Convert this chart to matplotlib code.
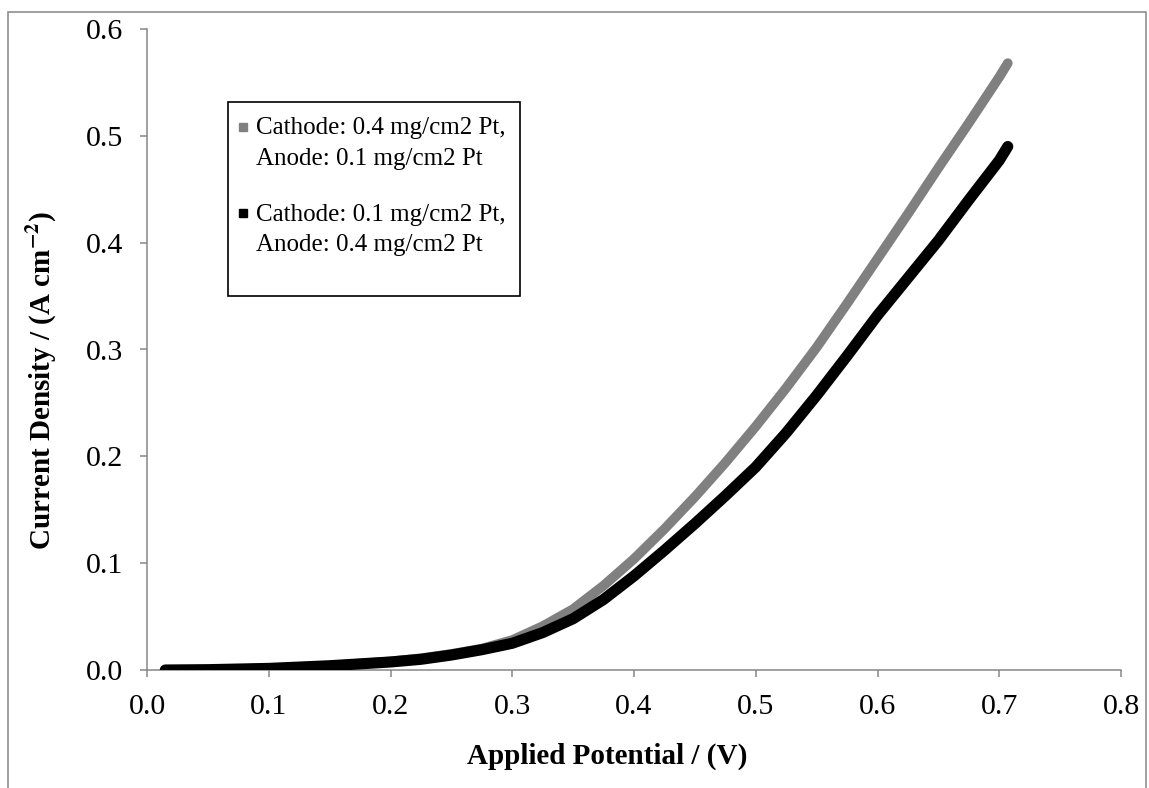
import matplotlib
matplotlib.use('Agg')
import matplotlib.pyplot as plt
from matplotlib.lines import Line2D
from matplotlib.patches import Rectangle

# applied potential (V) and current density (A cm-2)
potential = [0.015, 0.05, 0.1, 0.15, 0.2, 0.225, 0.25, 0.275, 0.3, 0.325, 0.35, 0.375,
             0.4, 0.425, 0.45, 0.475, 0.5, 0.525, 0.55, 0.575, 0.6, 0.625, 0.65,
             0.675, 0.7, 0.707]
cath04_an01 = [0.0, 0.0003, 0.0015, 0.004, 0.008, 0.011, 0.015, 0.020, 0.028, 0.041,
               0.057, 0.079, 0.104, 0.132, 0.162, 0.194, 0.228, 0.264, 0.302, 0.343,
               0.385, 0.427, 0.470, 0.512, 0.555, 0.568]
cath01_an04 = [0.0, 0.0003, 0.0015, 0.004, 0.0075, 0.010, 0.014, 0.019, 0.025, 0.035,
               0.048, 0.066, 0.088, 0.112, 0.137, 0.163, 0.190, 0.222, 0.257, 0.294,
               0.332, 0.367, 0.402, 0.440, 0.477, 0.490]

label_1 = ['Cathode: 0.4 mg/cm2 Pt,', 'Anode: 0.1 mg/cm2 Pt']
label_2 = ['Cathode: 0.1 mg/cm2 Pt,', 'Anode: 0.4 mg/cm2 Pt']
xticks = [0.0, 0.1, 0.2, 0.3, 0.4, 0.5, 0.6, 0.7, 0.8]
yticks = [0.0, 0.1, 0.2, 0.3, 0.4, 0.5, 0.6]

plt.rcParams['font.family'] = ['Liberation Serif', 'DejaVu Serif']
plt.rcParams['mathtext.fontset'] = 'stix'

W, H = 1149, 788
fig = plt.figure(figsize=(W / 100, H / 100), dpi=100)
ax = fig.add_axes([147 / W, 1 - 670 / H, 974 / W, 641 / H])

axis_grey = '#868686'
ax.plot(potential, cath04_an01, color='#808080', lw=7, solid_capstyle='round', zorder=2)
ax.plot(potential, cath01_an04, color='black', lw=8, solid_capstyle='round', zorder=3)

ax.set_xlim(0, 0.8)
ax.set_ylim(0, 0.6)
ax.set_xticks(xticks)
ax.set_yticks(yticks)
ax.set_xticklabels([f'{v:.1f}' for v in xticks])
ax.set_yticklabels([f'{v:.1f}' for v in yticks])
for s in ['top', 'right']:
    ax.spines[s].set_visible(False)
for s in ['left', 'bottom']:
    ax.spines[s].set_color(axis_grey)
    ax.spines[s].set_linewidth(1.1)
ax.tick_params(direction='out', length=5, width=1.1, color=axis_grey,
               labelsize=21.5, pad=12)
ax.patch.set_visible(False)

ax.set_xlabel('Applied Potential / (V)', fontsize=21, fontweight='bold')
ax.xaxis.set_label_coords(0.472, -0.114)
ax.set_ylabel(r'Current Density / (A cm$^{\mathbf{-2}}$)', fontsize=21, fontweight='bold')
ax.yaxis.set_label_coords(-0.09, 0.452)

# legend: marker sits on the first line of each two-line entry
sq = dict(ls='', marker='s', ms=6)
blank = Line2D([], [], ls='', marker='')
handles = [Line2D([], [], color='#808080', **sq), blank, blank,
           Line2D([], [], color='black', **sq), blank, blank]
labels = [label_1[0], label_1[1], ' ', label_2[0], label_2[1], ' ']
leg = ax.legend(handles, labels, loc='upper left', bbox_to_anchor=(228 / W, 1 - 102 / H),
                bbox_transform=fig.transFigure, borderaxespad=0, fontsize=18,
                fancybox=False, framealpha=1, edgecolor='black',
                handlelength=0, handleheight=0.3, handletextpad=0.5,
                labelspacing=0.36, borderpad=0.6)
leg.get_frame().set_linewidth(1.2)
for i in (2, 5):
    leg.get_texts()[i].set_fontsize(5)

# grey border around the whole chart area
fig.patches.append(Rectangle((8 / W, -0.05), 1138 / W, 1.05 - 12 / H,
                             transform=fig.transFigure, fill=False,
                             edgecolor=axis_grey, lw=1.1))

fig.savefig('out.png', dpi=100)
